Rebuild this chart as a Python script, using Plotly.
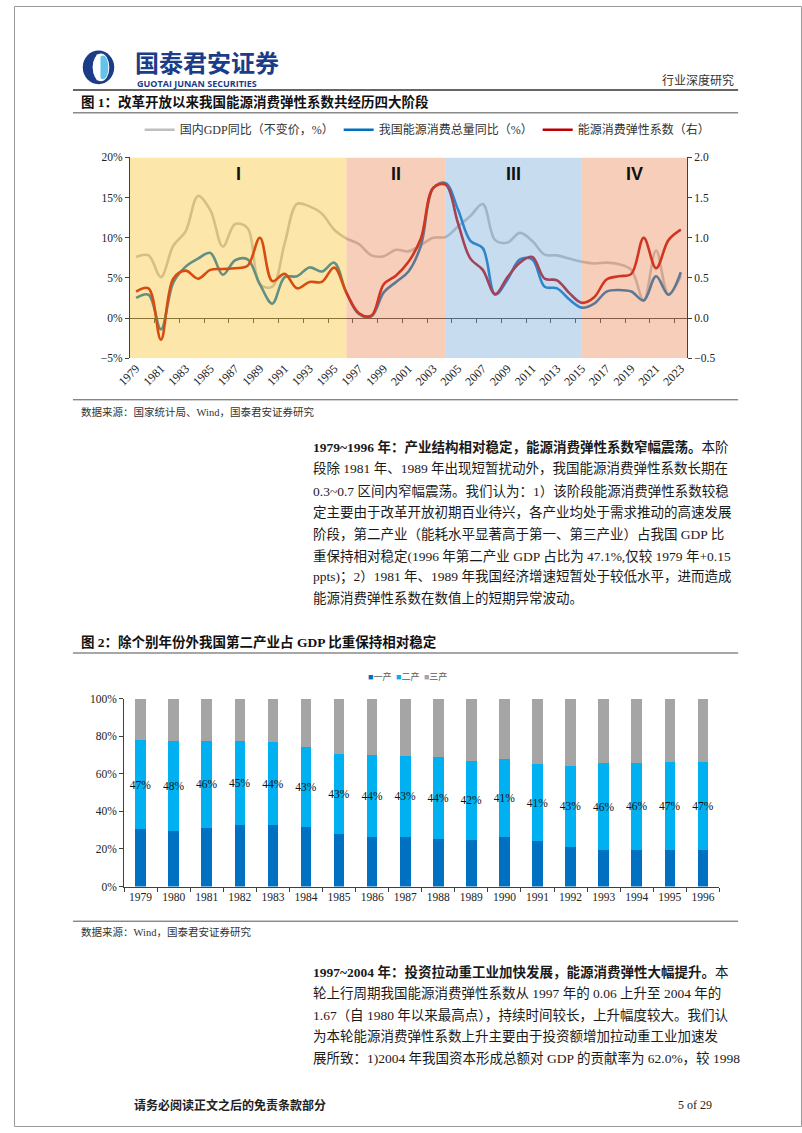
import plotly.graph_objects as go

W, H = 802, 1133
def X(px): return px / W
def Y(py): return 1 - py / H

SERIF = "Liberation Serif, Noto Sans CJK SC"
SANS = "Noto Sans CJK SC, Liberation Sans"

# ---------------- Figure 1 data ----------------
years1 = [str(y) for y in range(1979, 2024)]
gdp_growth = [7.6, 7.8, 5.1, 9.0, 10.8, 15.2, 13.4, 8.9, 11.7, 11.2, 4.2, 3.9, 9.3, 14.2, 13.9,
              13.0, 11.0, 9.9, 9.2, 7.8, 7.7, 8.5, 8.3, 9.1, 10.0, 10.1, 11.4, 12.7, 14.2, 9.7,
              9.4, 10.6, 9.6, 7.9, 7.8, 7.4, 7.0, 6.8, 6.9, 6.7, 6.0, 2.2, 8.4, 3.0, 5.2]
energy_growth = [2.5, 2.9, -1.4, 4.4, 6.4, 7.4, 8.1, 5.4, 7.2, 7.3, 4.2, 1.8, 5.1, 5.2, 6.3,
                 5.8, 6.9, 3.1, 0.5, 0.2, 3.2, 4.5, 5.8, 9.0, 16.2, 16.8, 13.5, 9.6, 8.7, 2.9,
                 4.8, 7.3, 7.3, 3.9, 3.7, 2.3, 1.3, 1.8, 3.3, 3.5, 3.3, 2.2, 5.2, 2.9, 5.7]
elasticity = [0.33, 0.37, -0.27, 0.49, 0.59, 0.49, 0.60, 0.61, 0.62, 0.65, 1.00, 0.46, 0.55, 0.37, 0.45,
              0.45, 0.63, 0.31, 0.06, 0.03, 0.42, 0.53, 0.70, 0.99, 1.62, 1.66, 1.18, 0.74, 0.60, 0.30,
              0.51, 0.69, 0.76, 0.49, 0.47, 0.31, 0.19, 0.26, 0.48, 0.52, 0.55, 1.00, 0.62, 0.97, 1.10]
series_names = ["国内GDP同比（不变价，%）", "我国能源消费总量同比（%）", "能源消费弹性系数（右）"]
phase_labels = ["I", "II", "III", "IV"]
phase_end_years = ["1996", "2004", "2015", "2023"]
phase_colors = ["rgb(250,192,42)", "rgb(235,132,80)", "rgb(117,167,217)", "rgb(235,132,80)"]

# ---------------- Figure 2 data ----------------
years2 = [str(y) for y in range(1979, 1997)]
primary = [30.7, 29.6, 31.3, 32.8, 32.6, 31.5, 27.9, 26.6, 26.3, 25.2, 24.6, 26.6, 24.0, 21.3, 19.3, 19.5, 19.6, 19.3]
secondary = [47.1, 48.1, 46.0, 44.6, 44.2, 42.9, 42.7, 43.5, 43.3, 43.5, 42.4, 41.0, 41.4, 43.1, 46.2, 46.2, 46.8, 47.1]
tertiary = [22.2, 22.3, 22.7, 22.6, 23.2, 25.6, 29.4, 29.9, 30.4, 31.3, 33.0, 32.4, 34.6, 35.6, 34.5, 34.3, 33.6, 33.6]
bar_names = ["一产", "二产", "三产"]
bar_colors = ["#0070C0", "#00B0F0", "#A5A5A5"]

fig = go.Figure()

# chart 1 lines
fig.add_trace(go.Scatter(x=years1, y=gdp_growth, name=series_names[0], mode="lines",
                         line=dict(color="rgb(191,191,191)", width=2.6, shape="spline"),
                         xaxis="x", yaxis="y"))
fig.add_trace(go.Scatter(x=years1, y=energy_growth, name=series_names[1], mode="lines",
                         line=dict(color="rgb(0,112,192)", width=2.6, shape="spline"),
                         xaxis="x", yaxis="y"))
fig.add_trace(go.Scatter(x=years1, y=elasticity, name=series_names[2], mode="lines",
                         line=dict(color="rgb(192,0,0)", width=2.6, shape="spline"),
                         xaxis="x", yaxis="y2"))
# carrier for the zero-line axis
fig.add_trace(go.Scatter(x=[-0.5, len(years1) - 0.5], y=[0, 0], mode="lines", line=dict(width=0),
                         hoverinfo="skip", showlegend=False, xaxis="x3", yaxis="y"))

# chart 2 bars
for vals, nm, col in zip([primary, secondary, tertiary], bar_names, bar_colors):
    kw = {}
    if nm == "二产":
        kw = dict(text=vals, texttemplate="%{text:.0f}%", textposition="inside",
                  insidetextanchor="middle", textangle=0, constraintext="none",
                  insidetextfont=dict(family=SERIF, size=11.5, color="#111"))
    fig.add_trace(go.Bar(x=years2, y=vals, name=nm, marker=dict(color=col, line=dict(width=0)),
                         xaxis="x2", yaxis="y3", showlegend=False, **kw))

# geometry
c1_left, c1_right, c1_top, c1_bot = 118, 685, 153, 356
c2_left, c2_right, c2_top, c2_bot = 112, 718, 700, 890
y1_range = [-5, 20]
zero_pos = Y(c1_bot) + (0 - y1_range[0]) / (y1_range[1] - y1_range[0]) * (Y(c1_top) - Y(c1_bot))

axfont = dict(family=SERIF, size=11.5, color="#222")
fig.update_layout(
    width=W, height=H, margin=dict(l=0, r=0, t=0, b=0), autosize=False,
    paper_bgcolor="white", plot_bgcolor="white",
    barmode="stack", bargap=0.68,
    xaxis=dict(domain=[X(c1_left), X(c1_right)], anchor="y", type="category",
               categoryorder="array", categoryarray=years1, range=[-0.5, len(years1) - 0.5],
               tickvals=years1[::2], tickangle=-45, ticks="", showline=False, showgrid=False,
               zeroline=False, tickfont=dict(family=SERIF, size=12, color="#222")),
    xaxis3=dict(domain=[X(c1_left), X(c1_right)], overlaying="x", anchor="free", position=zero_pos,
                range=[-0.5, len(years1) - 0.5], tickvals=[i + 0.5 for i in range(1, len(years1) - 1, 2)],
                ticks="outside", ticklen=4, tickcolor="#404040", showticklabels=False,
                showline=True, linecolor="#404040", linewidth=1, showgrid=False, zeroline=False),
    yaxis=dict(domain=[Y(c1_bot), Y(c1_top)], anchor="x", range=y1_range, dtick=5,
               ticksuffix="%", showline=True, linecolor="#404040", ticks="outside", ticklen=4,
               tickcolor="#404040", showgrid=False, zeroline=False, tickfont=axfont),
    yaxis2=dict(overlaying="y", side="right", anchor="x", range=[-0.5, 2.0], dtick=0.5,
                tickformat=".1f", showline=True, linecolor="#404040", ticks="outside", ticklen=4,
                tickcolor="#404040", showgrid=False, zeroline=False, tickfont=axfont),
    xaxis2=dict(domain=[X(c2_left), X(c2_right)], anchor="y3", type="category",
                tickson="boundaries", ticks="outside", ticklen=4, tickcolor="#404040",
                showline=True, linecolor="#404040", showgrid=False, tickfont=axfont),
    yaxis3=dict(domain=[Y(c2_bot), Y(c2_top)], anchor="x2", range=[0, 100], dtick=20,
                ticksuffix="%", showline=True, linecolor="#404040", ticks="outside", ticklen=4,
                tickcolor="#404040", showgrid=False, zeroline=False, tickfont=axfont),
    legend=dict(orientation="h", x=X(421), xanchor="center", y=Y(125), yanchor="middle",
                traceorder="normal",
                font=dict(family=SERIF, size=12, color="#333"), itemwidth=30,
                bgcolor="rgba(0,0,0,0)"),
)

shapes = []
annotations = []

# phase bands (over the lines, semi-transparent)
starts = [-0.5] + [years1.index(y) for y in phase_end_years[:-1]]
ends = [years1.index(y) for y in phase_end_years[:-1]] + [len(years1) - 0.5]
for lab, x0, x1, col in zip(phase_labels, starts, ends, phase_colors):
    shapes.append(dict(type="rect", xref="x", yref="y", x0=x0, x1=x1, y0=y1_range[0], y1=y1_range[1],
                       fillcolor=col, opacity=0.4, line=dict(width=0), layer="above"))
    annotations.append(dict(x=(x0 + x1) / 2, y=17.9, xref="x", yref="y", text=f"<b>{lab}</b>",
                            showarrow=False, font=dict(family="Liberation Sans, Arial", size=18, color="#111")))

def hline(y, x0, x1, color, width):
    shapes.append(dict(type="line", xref="paper", yref="paper", x0=X(x0), x1=X(x1), y0=Y(y), y1=Y(y),
                       line=dict(color=color, width=width)))

def text(x, y, s, size, color="#1a1a1a", anchor="left", family=SERIF):
    annotations.append(dict(x=X(x), y=Y(y), xref="paper", yref="paper", text=s, showarrow=False,
                            xanchor=anchor, yanchor="middle", font=dict(size=size, color=color, family=family)))

# page border
shapes.append(dict(type="rect", xref="paper", yref="paper", x0=X(0.5), x1=X(801.5), y0=Y(0.5), y1=Y(1132.5),
                   line=dict(color="#9a9a9a", width=1)))

# logo
navy = "#1B3C87"
shapes.append(dict(type="circle", xref="paper", yref="paper", x0=X(70), x1=X(102), y0=Y(79), y1=Y(45),
                   fillcolor=navy, line=dict(width=0)))
shapes.append(dict(type="circle", xref="paper", yref="paper", x0=X(80), x1=X(97), y0=Y(76), y1=Y(48),
                   fillcolor="white", line=dict(width=0)))
shapes.append(dict(type="circle", xref="paper", yref="paper", x0=X(85), x1=X(96), y0=Y(74), y1=Y(50),
                   fillcolor="#63C3E8", line=dict(width=0)))
shapes.append(dict(type="rect", xref="paper", yref="paper", x0=X(84), x1=X(88), y0=Y(75), y1=Y(49),
                   fillcolor="white", line=dict(width=0)))
text(121, 56, "<b>国泰君安证券</b>", 24, color=navy, family=SANS)
text(123, 78, "<b>GUOTAI JUNAN SECURITIES</b>", 9, color=navy, family="Open Sans, Liberation Sans")
text(735, 75, "行业深度研究", 12, color="#333", anchor="right")
hline(85, 60, 737, "#333", 1.5)

# figure 1 title
text(66, 97, "<b>图 1：改革开放以来我国能源消费弹性系数共经历四大阶段</b>", 13.5, color="#111")
hline(108, 60, 737, "#8a8a8a", 1.5)

# source 1
hline(398, 60, 737, "#555", 1)
text(66, 410, "数据来源：国家统计局、Wind，国泰君安证券研究", 10.5, color="#333")

para1_lines = [
    "<b>1979~1996 年：产业结构相对稳定，能源消费弹性系数窄幅震荡。</b>本阶",
    "段除 1981 年、1989 年出现短暂扰动外，我国能源消费弹性系数长期在",
    "0.3~0.7 区间内窄幅震荡。我们认为：1）该阶段能源消费弹性系数较稳",
    "定主要由于改革开放初期百业待兴，各产业均处于需求推动的高速发展",
    "阶段，第二产业（能耗水平显著高于第一、第三产业）占我国 GDP 比",
    "重保持相对稳定(1996 年第二产业 GDP 占比为 47.1%,仅较 1979 年+0.15",
    "ppts)；2）1981 年、1989 年我国经济增速短暂处于较低水平，进而造成",
    "能源消费弹性系数在数值上的短期异常波动。",
]
for i, ln in enumerate(para1_lines):
    text(302, 446 + 21.9 * i, ln, 13.5)

# figure 2 title
text(66, 643, "<b>图 2：除个别年份外我国第二产业占 GDP 比重保持相对稳定</b>", 13.5, color="#111")
hline(654, 60, 737, "#8a8a8a", 1.5)

# legend 2 (compact square markers)
leg2 = "  ".join(f'<span style="color:{c}">■</span>{n}' for n, c in zip(bar_names, bar_colors))
text(400, 678, leg2, 9, color="#595959", anchor="center")

# source 2
hline(925, 60, 737, "#555", 1)
text(66, 936, "数据来源：Wind，国泰君安证券研究", 10.5, color="#333")

para2_lines = [
    "<b>1997~2004 年：投资拉动重工业加快发展，能源消费弹性大幅提升。</b>本",
    "轮上行周期我国能源消费弹性系数从 1997 年的 0.06 上升至 2004 年的",
    "1.67（自 1980 年以来最高点），持续时间较长，上升幅度较大。我们认",
    "为本轮能源消费弹性系数上升主要由于投资额增加拉动重工业加速发",
    "展所致：1)2004 年我国资本形成总额对 GDP 的贡献率为 62.0%，较 1998",
]
for i, ln in enumerate(para2_lines):
    text(302, 976 + 21.9 * i, ln, 13.5)

# footer
text(120, 1111, "<b>请务必阅读正文之后的免责条款部分</b>", 12, color="#222")
text(712, 1111, "5 of 29", 12, color="#222", anchor="right")

fig.update_layout(shapes=shapes, annotations=annotations)
fig.write_html("out.html")
